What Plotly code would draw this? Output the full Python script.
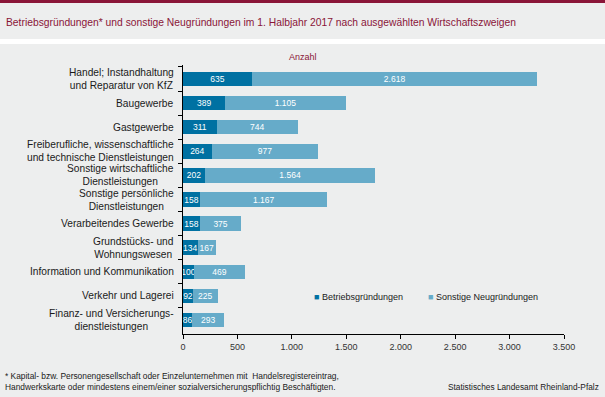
import plotly.graph_objects as go

categories = [
    "Handel; Instandhaltung<br>und Reparatur von KfZ",
    "Baugewerbe",
    "Gastgewerbe",
    "Freiberufliche, wissenschaftliche<br>und technische Dienstleistungen",
    "Sonstige wirtschaftliche<br>Dienstleistungen",
    "Sonstige persönliche<br>Dienstleistungen",
    "Verarbeitendes Gewerbe",
    "Grundstücks- und<br>Wohnungswesen",
    "Information und Kommunikation",
    "Verkehr und Lagerei",
    "Finanz- und Versicherungs-<br>dienstleistungen",
]
betriebsgruendungen = [635, 389, 311, 264, 202, 158, 158, 134, 100, 92, 86]
sonstige = [2618, 1105, 744, 977, 1564, 1167, 375, 167, 469, 225, 293]
series_names = ["Betriebsgründungen", "Sonstige Neugründungen"]
x_ticks = [0, 500, 1000, 1500, 2000, 2500, 3000, 3500]

W, H = 605, 397
L, R, T, B = 183, 41, 65, 63
PH = H - T - B

def py(pix):
    return (H - B - pix) / PH

def px(pix):
    return (pix - L) / (W - L - R)

DARK = "#0071a2"
LIGHT = "#66abc9"
RED = "#8a1538"
BG = "#edeeee"
FONT = "Liberation Sans, Arial, sans-serif"

fig = go.Figure()
for name, vals, col in [(series_names[0], betriebsgruendungen, DARK),
                        (series_names[1], sonstige, LIGHT)]:
    fig.add_trace(go.Bar(
        y=categories, x=vals, name=name, orientation="h",
        marker=dict(color=col, line=dict(width=0)),
        width=0.6,
        texttemplate="%{x:,d}", textposition="inside", textangle=0,
        insidetextanchor="middle", constraintext="none",
        textfont=dict(color="white", size=8.5, family=FONT),
        cliponaxis=False, showlegend=False,
    ))

annotations = []
for c in categories:
    annotations.append(dict(
        x=0, xref="paper", y=c, yref="y", xshift=-7,
        text=c, showarrow=False, xanchor="right", yanchor="middle",
        align="center", font=dict(size=10.2, color="#1a1a1a", family=FONT),
    ))

annotations += [
    dict(x=px(4), xref="paper", y=py(22), yref="paper", xanchor="left", yanchor="middle",
         text="Betriebsgründungen* und sonstige Neugründungen im 1. Halbjahr 2017 nach ausgewählten Wirtschaftszweigen",
         showarrow=False, font=dict(size=10.3, color=RED, family=FONT)),
    dict(x=px(303), xref="paper", y=py(57), yref="paper", xanchor="center", yanchor="middle",
         text="Anzahl", showarrow=False, font=dict(size=9, color=RED, family=FONT)),
    dict(x=px(312), xref="paper", y=py(297), yref="paper", xanchor="left", yanchor="middle",
         text=(f"<span style='color:{DARK}'>■</span> {series_names[0]}"
               f"          <span style='color:{LIGHT}'>■</span> {series_names[1]}"),
         showarrow=False, font=dict(size=9, color="#1a1a1a", family=FONT)),
    dict(x=px(3), xref="paper", y=py(381), yref="paper", xanchor="left", yanchor="middle",
         align="left",
         text=("* Kapital- bzw. Personengesellschaft oder Einzelunternehmen mit  Handelsregistereintrag,<br>"
               "Handwerkskarte oder mindestens einem/einer sozialversicherungspflichtig Beschäftigten."),
         showarrow=False, font=dict(size=8.4, color="#1a1a1a", family=FONT)),
    dict(x=px(601), xref="paper", y=py(387), yref="paper", xanchor="right", yanchor="middle",
         text="Statistisches Landesamt Rheinland-Pfalz",
         showarrow=False, font=dict(size=8.3, color="#1a1a1a", family=FONT)),
]

shapes = [
    dict(type="rect", xref="paper", yref="paper", x0=px(0), x1=px(W), y0=py(0), y1=py(3),
         fillcolor=RED, line=dict(width=0), layer="below"),
    dict(type="rect", xref="paper", yref="paper", x0=px(0), x1=px(W), y0=py(39), y1=py(44),
         fillcolor="white", line=dict(width=0), layer="below"),
]

fig.update_layout(
    width=W, height=H,
    margin=dict(l=L, r=R, t=T, b=B),
    paper_bgcolor=BG, plot_bgcolor=BG,
    barmode="stack", bargap=0.4,
    separators=",.",
    font=dict(family=FONT, color="#1a1a1a"),
    annotations=annotations, shapes=shapes,
    xaxis=dict(range=[0, 3500], tickvals=x_ticks, tickformat=",d",
               showgrid=False, zeroline=False, showline=True, linecolor="black", linewidth=1,
               ticks="outside", ticklen=4, tickcolor="black",
               tickfont=dict(size=9, color="#333333", family=FONT), fixedrange=True),
    yaxis=dict(autorange="reversed", showticklabels=False, showgrid=False, zeroline=False,
               showline=True, linecolor="black", linewidth=1,
               ticks="outside", ticklen=4, tickcolor="black", tickson="boundaries",
               fixedrange=True),
)

fig.write_html("out.html", config={"displayModeBar": False},
               post_script="document.body.style.margin='0';document.body.style.background='%s';" % BG)
